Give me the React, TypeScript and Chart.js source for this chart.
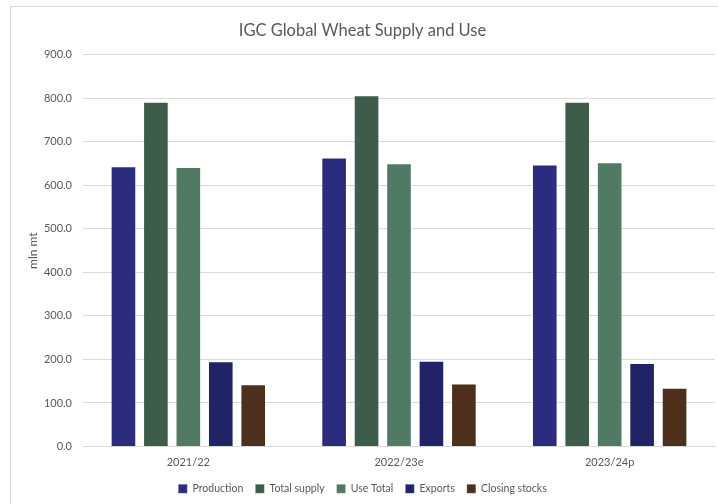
import React, { useEffect, useRef } from "react";
import { Chart, registerables } from "chart.js";

Chart.register(...registerables);

const categories = ["2021/22", "2022/23e", "2023/24p"];
const production = [644, 664, 648];
const totalSupply = [792, 807, 792];
const useTotal = [642, 651, 653];
const exportsData = [196, 197, 192];
const closingStocks = [143, 145, 135];

const seriesNames = ["Production", "Total supply", "Use Total", "Exports", "Closing stocks"];
const seriesColors = ["#2b2c7e", "#3d5c4a", "#517a64", "#202466", "#4d2f1b"];

const FONT = "Lato, 'Liberation Sans', sans-serif";
const GRAY = "#595959";

const framePlugin = {
  id: "frame",
  beforeDraw(chart: any) {
    const ctx = chart.ctx;
    ctx.save();
    ctx.fillStyle = "#ffffff";
    ctx.fillRect(0, 0, chart.width, chart.height);
    ctx.strokeStyle = "#d9d9d9";
    ctx.lineWidth = 1;
    ctx.strokeRect(10.5, 6.5, 900, 700);
    ctx.restore();
  },
};

export default function App() {
  const ref = useRef<HTMLCanvasElement>(null);

  useEffect(() => {
    if (!ref.current) return;
    const values = [production, totalSupply, useTotal, exportsData, closingStocks];
    const chart = new Chart(ref.current, {
      type: "bar",
      data: {
        labels: categories,
        datasets: values.map((v, i) => ({
          label: seriesNames[i],
          data: v,
          backgroundColor: seriesColors[i],
          borderColor: "rgba(255,255,255,0.25)",
          borderWidth: 1,
          barPercentage: 0.79,
          categoryPercentage: 0.77,
        })),
      },
      options: {
        responsive: false,
        animation: false,
        layout: { padding: { left: 10, right: 3, top: 7, bottom: 0 } },
        plugins: {
          title: {
            display: true,
            text: "IGC Global Wheat Supply and Use",
            color: GRAY,
            font: { family: FONT, size: 16.5, weight: "normal" },
            padding: { top: 14, bottom: 14 },
          },
          legend: {
            position: "bottom",
            labels: {
              color: GRAY,
              font: { family: FONT, size: 10.5 },
              boxWidth: 9,
              boxHeight: 9,
              padding: 12,
            },
          },
          tooltip: { enabled: false },
        },
        scales: {
          x: {
            grid: { display: false, drawTicks: false },
            border: { display: true, color: "#d9d9d9" },
            ticks: { color: GRAY, font: { family: FONT, size: 11 }, padding: 9 },
            afterFit: (scale: any) => {
              scale.height = 25;
            },
          },
          y: {
            min: 0,
            max: 900,
            grid: { color: "#d9d9d9", drawTicks: false },
            border: { display: false },
            ticks: {
              stepSize: 100,
              color: GRAY,
              font: { family: FONT, size: 11 },
              padding: 11,
              callback: (v: any) => Number(v).toFixed(1),
            },
            title: {
              display: true,
              text: "mln mt",
              color: GRAY,
              font: { family: FONT, size: 12 },
              padding: { top: 16, bottom: 0 },
            },
            afterFit: (scale: any) => {
              scale.width = 73;
            },
          },
        },
      },
      plugins: [framePlugin],
    });
    return () => chart.destroy();
  }, []);

  return (
    <div style={{ position: "fixed", left: 0, top: 0, width: 718, height: 504 }}>
      <canvas ref={ref} width={718} height={504} />
    </div>
  );
}
